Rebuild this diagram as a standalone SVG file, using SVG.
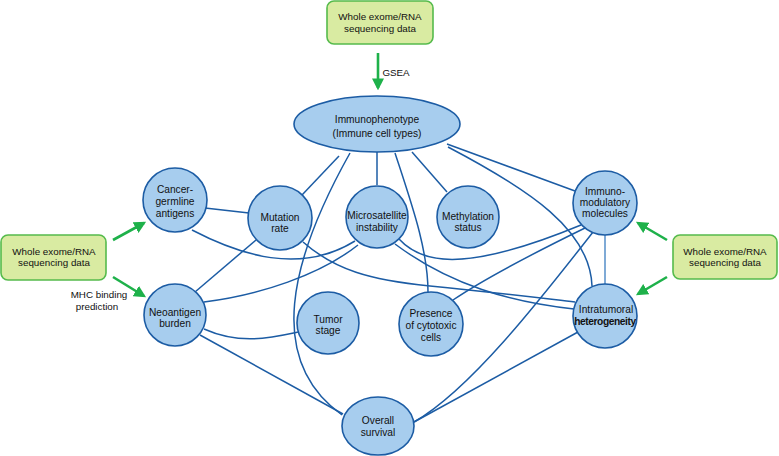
<svg xmlns="http://www.w3.org/2000/svg" width="779" height="456" viewBox="0 0 779 456">
<defs>
<style>
.n{fill:#a7cdee;stroke:#1c5ca4;stroke-width:1.6}
.e{fill:none;stroke:#1c5ca4;stroke-width:1.5}
.b{fill:#d9eba2;stroke:#55bb4c;stroke-width:1.6}
.g{fill:none;stroke:#1eb14a;stroke-width:2.6}
text{font-family:"Liberation Sans",Arial,sans-serif;font-size:10.2px;fill:#111;text-anchor:middle}
.bt{font-size:9.8px}
</style>
<marker id="ah" markerWidth="12" markerHeight="12" viewBox="0 0 10 10" refX="8" refY="5" orient="auto" markerUnits="userSpaceOnUse">
<path d="M0,0 L10,5 L0,10 z" fill="#1eb14a"/>
</marker>
</defs>
<rect width="779" height="456" fill="#fff"/>
<g id="connectors">
<path class="e" d="M339,156 L302,195"/>
<path class="e" d="M377,152 L377,185"/>
<path class="e" d="M412,152 L447,192"/>
<path class="e" d="M447,144 L575,191"/>
<path class="e" d="M448,147 C530,190 590,230 592,286"/>
<path class="e" d="M395,153 C412,205 428,250 428,292"/>
<path class="e" d="M350,153 C290,260 265,360 342,415"/>
<path class="e" d="M205,208 L249,213"/>
<path class="e" d="M192,230 C240,255 300,275 355,241"/>
<path class="e" d="M358,245 C320,275 260,295 204,302"/>
<path class="e" d="M256,240 L195,292"/>
<path class="e" d="M303,242 C335,270 370,280 430,286 S540,298 575,302"/>
<path class="e" d="M399,239 C420,262 460,275 581,225"/>
<path class="e" d="M395,244 C450,285 510,302 574,309"/>
<path class="e" d="M585,228 C540,250 490,275 453,300"/>
<path class="e" d="M593,232 C540,300 470,390 414,422"/>
<path d="M605,235 L605,284" fill="none" stroke="#5f95cc" stroke-width="1.6"/>
<path class="e" d="M578,332 L414,422"/>
<path class="e" d="M204,329 C240,345 270,338 298,332"/>
<path class="e" d="M200,335 L343,414"/>
<path class="g" d="M378,53 L378,88" marker-end="url(#ah)"/>
<path class="g" d="M113,240 L144,223" marker-end="url(#ah)"/>
<path class="g" d="M113,277 L144,296" marker-end="url(#ah)"/>
<path class="g" d="M667,240 L638,223" marker-end="url(#ah)"/>
<path class="g" d="M667,277 L638,294" marker-end="url(#ah)"/>
</g>
<g id="box-top">
<rect class="b" x="327" y="1" width="106" height="43" rx="7"/>
<text class="bt" x="380" y="20">Whole exome/RNA</text>
<text class="bt" x="380" y="32">sequencing data</text>
</g>
<g id="label-gsea"><text x="396" y="76" style="font-size:9.8px">GSEA</text></g>
<g id="box-left">
<rect class="b" x="1" y="235" width="105" height="45" rx="7"/>
<text class="bt" x="54" y="255">Whole exome/RNA</text>
<text class="bt" x="54" y="266">sequencing data</text>
</g>
<g id="label-mhc">
<text class="bt" x="99" y="298">MHC binding</text>
<text class="bt" x="97" y="310">prediction</text>
</g>
<g id="box-right">
<rect class="b" x="673" y="235" width="104" height="44" rx="7"/>
<text class="bt" x="725" y="255">Whole exome/RNA</text>
<text class="bt" x="725" y="266">sequencing data</text>
</g>
<g id="immunophenotype">
<ellipse class="n" cx="377" cy="124" rx="83" ry="28"/>
<text x="377" y="123">Immunophenotype</text>
<text x="377" y="137">(Immune cell types)</text>
</g>
<g id="cancer-germline">
<circle class="n" cx="175" cy="200" r="32"/>
<text x="175" y="193">Cancer-</text>
<text x="175" y="205">germline</text>
<text x="175" y="217">antigens</text>
</g>
<g id="mutation-rate">
<circle class="n" cx="280" cy="218" r="32"/>
<text x="280" y="221">Mutation</text>
<text x="280" y="232">rate</text>
</g>
<g id="microsatellite">
<circle class="n" cx="377" cy="217" r="31"/>
<text x="377" y="219">Microsatellite</text>
<text x="377" y="231">instability</text>
</g>
<g id="methylation">
<circle class="n" cx="468" cy="217" r="31"/>
<text x="468" y="220">Methylation</text>
<text x="468" y="231">status</text>
</g>
<g id="immunomodulatory">
<circle class="n" cx="605" cy="203" r="32"/>
<text x="605" y="195">Immuno-</text>
<text x="605" y="206">modulatory</text>
<text x="605" y="217">molecules</text>
</g>
<g id="intratumoral">
<circle class="n" cx="605" cy="316" r="32"/>
<text x="606" y="313">Intratumoral</text>
<text x="605" y="325" style="font-weight:bold;letter-spacing:-0.4px">heterogeneity</text>
</g>
<g id="neoantigen">
<circle class="n" cx="175" cy="315" r="31"/>
<text x="175" y="316">Neoantigen</text>
<text x="175" y="327">burden</text>
</g>
<g id="tumor-stage">
<circle class="n" cx="328" cy="323" r="31"/>
<text x="328" y="323">Tumor</text>
<text x="328" y="334">stage</text>
</g>
<g id="presence">
<circle class="n" cx="431" cy="324" r="32"/>
<text x="431" y="317">Presence</text>
<text x="431" y="329">of cytotoxic</text>
<text x="431" y="341">cells</text>
</g>
<g id="overall-survival">
<ellipse class="n" cx="378" cy="426" rx="36" ry="29"/>
<text x="378" y="424">Overall</text>
<text x="378" y="436">survival</text>
</g>
</svg>
